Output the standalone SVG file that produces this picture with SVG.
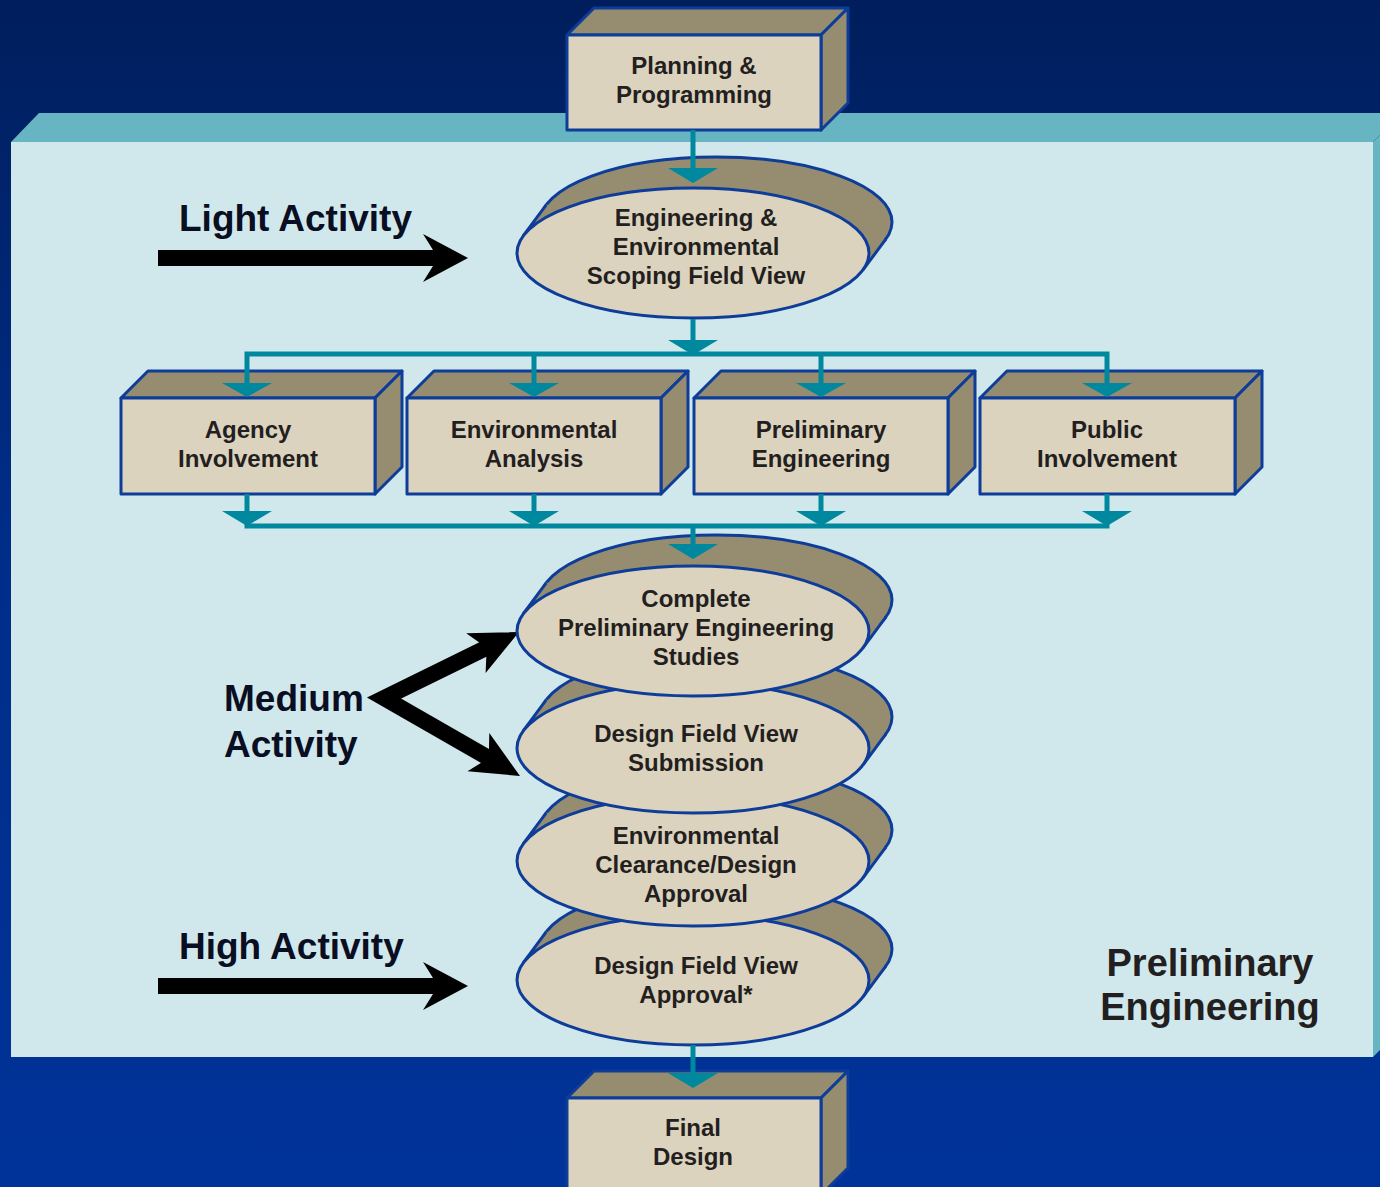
<svg xmlns="http://www.w3.org/2000/svg" width="1380" height="1187" viewBox="0 0 1380 1187">
<defs>
<linearGradient id="bg" x1="0" y1="0" x2="0" y2="1">
<stop offset="0" stop-color="#001e5c"/>
<stop offset="0.45" stop-color="#002d88"/>
<stop offset="1" stop-color="#003399"/>
</linearGradient>
</defs>
<style>
.front{fill:#dcd3be;stroke:#0d3c99;stroke-width:3;stroke-linejoin:round}
.dark{fill:#968d71;stroke:#0d3c99;stroke-width:3;stroke-linejoin:round}
.darkfill{fill:#968d71;stroke:none}
.edge{stroke:#0d3c99;stroke-width:3;fill:none}
.lbl{font-family:"Liberation Sans",Arial,sans-serif;font-weight:bold;font-size:24px;fill:#231f20;text-anchor:middle}
.big{font-family:"Liberation Sans",Arial,sans-serif;font-weight:bold;font-size:38px;fill:#231f20;text-anchor:middle}
.act{font-family:"Liberation Sans",Arial,sans-serif;font-weight:bold;font-size:37px;fill:#0a0e22}
.con{stroke:#00889e;stroke-width:5;fill:none}
.head{fill:#00889e}
.blk{fill:#000}
</style>
<rect x="0" y="0" width="1380" height="1187" fill="url(#bg)"/>
<g id="panel">
<polygon points="11,142 39,113 1380,113 1380,135 1373,142" fill="#67b5c3"/>
<polygon points="1373,142 1380,135 1380,1050 1373,1057" fill="#67b5c3"/>
<rect x="11" y="142" width="1362" height="915" fill="#d0e8ec"/>
<text class="big" x="1210" y="976">Preliminary</text>
<text class="big" x="1210" y="1020">Engineering</text>
</g>
<g id="activity-labels">
<text class="act" x="179" y="231">Light Activity</text>
<text class="act" x="224" y="711">Medium</text>
<text class="act" x="224" y="757">Activity</text>
<text class="act" x="179" y="959">High Activity</text>
<polygon class="blk" points="158,250 433,250 423,234 468,258 423,282 433,266 158,266"/>
<polygon class="blk" points="158,978 433,978 423,962 468,986 423,1010 433,994 158,994"/>
<polyline points="490,646 384,698 492,760" fill="none" stroke="#000" stroke-width="16" stroke-linejoin="miter" stroke-miterlimit="6"/>
<polygon class="blk" points="519,632 485.6,672.9 486.7,647.8 466.2,633.3"/>
<polygon class="blk" points="520,776 467.5,771.2 488.8,758.1 489.3,733"/>
</g>
<g id="planning">
<polygon class="dark" points="567,35 594,8 848,8 821,35"/>
<polygon class="dark" points="821,35 848,8 848,103 821,130"/>
<rect class="front" x="567" y="35" width="254" height="95"/>
<text class="lbl" x="694" y="74">Planning &amp;</text>
<text class="lbl" x="694" y="103">Programming</text>
</g>
<g id="scoping">
<ellipse class="dark" cx="716" cy="222" rx="176" ry="65"/>
<polygon class="darkfill" points="523.2,235.8 546.2,204.8 885.8,239.2 862.8,270.2"/>
<line class="edge" x1="523.2" y1="235.8" x2="546.2" y2="204.8"/>
<line class="edge" x1="862.8" y1="270.2" x2="885.8" y2="239.2"/>
<ellipse class="front" cx="693" cy="253" rx="176" ry="65"/>
<text class="lbl" x="696" y="226">Engineering &amp;</text>
<text class="lbl" x="696" y="255">Environmental</text>
<text class="lbl" x="696" y="284">Scoping Field View</text>
</g>
<g id="agency">
<polygon class="dark" points="121,398 148,371 402,371 375,398"/>
<polygon class="dark" points="375,398 402,371 402,467 375,494"/>
<rect class="front" x="121" y="398" width="254" height="96"/>
<text class="lbl" x="248" y="438">Agency</text>
<text class="lbl" x="248" y="467">Involvement</text>
</g>
<g id="env-analysis">
<polygon class="dark" points="407,398 434,371 688,371 661,398"/>
<polygon class="dark" points="661,398 688,371 688,467 661,494"/>
<rect class="front" x="407" y="398" width="254" height="96"/>
<text class="lbl" x="534" y="438">Environmental</text>
<text class="lbl" x="534" y="467">Analysis</text>
</g>
<g id="prelim-eng">
<polygon class="dark" points="694,398 721,371 975,371 948,398"/>
<polygon class="dark" points="948,398 975,371 975,467 948,494"/>
<rect class="front" x="694" y="398" width="254" height="96"/>
<text class="lbl" x="821" y="438">Preliminary</text>
<text class="lbl" x="821" y="467">Engineering</text>
</g>
<g id="public">
<polygon class="dark" points="980,398 1007,371 1262,371 1235,398"/>
<polygon class="dark" points="1235,398 1262,371 1262,467 1235,494"/>
<rect class="front" x="980" y="398" width="255" height="96"/>
<text class="lbl" x="1107" y="438">Public</text>
<text class="lbl" x="1107" y="467">Involvement</text>
</g>
<g id="dfv-approval">
<ellipse class="dark" cx="716" cy="949" rx="176" ry="65"/>
<polygon class="darkfill" points="523.2,962.8 546.2,931.8 885.8,966.2 862.8,997.2"/>
<line class="edge" x1="523.2" y1="962.8" x2="546.2" y2="931.8"/>
<line class="edge" x1="862.8" y1="997.2" x2="885.8" y2="966.2"/>
<ellipse class="front" cx="693" cy="980" rx="176" ry="65"/>
<text class="lbl" x="696" y="974">Design Field View</text>
<text class="lbl" x="696" y="1003">Approval*</text>
</g>
<g id="env-clearance">
<ellipse class="dark" cx="716" cy="830" rx="176" ry="65"/>
<polygon class="darkfill" points="523.2,843.8 546.2,812.8 885.8,847.2 862.8,878.2"/>
<line class="edge" x1="523.2" y1="843.8" x2="546.2" y2="812.8"/>
<line class="edge" x1="862.8" y1="878.2" x2="885.8" y2="847.2"/>
<ellipse class="front" cx="693" cy="861" rx="176" ry="65"/>
<text class="lbl" x="696" y="844">Environmental</text>
<text class="lbl" x="696" y="873">Clearance/Design</text>
<text class="lbl" x="696" y="902">Approval</text>
</g>
<g id="dfv-submission">
<ellipse class="dark" cx="716" cy="717" rx="176" ry="65"/>
<polygon class="darkfill" points="523.2,730.8 546.2,699.8 885.8,734.2 862.8,765.2"/>
<line class="edge" x1="523.2" y1="730.8" x2="546.2" y2="699.8"/>
<line class="edge" x1="862.8" y1="765.2" x2="885.8" y2="734.2"/>
<ellipse class="front" cx="693" cy="748" rx="176" ry="65"/>
<text class="lbl" x="696" y="742">Design Field View</text>
<text class="lbl" x="696" y="771">Submission</text>
</g>
<g id="complete-pe">
<ellipse class="dark" cx="716" cy="600" rx="176" ry="65"/>
<polygon class="darkfill" points="523.2,613.8 546.2,582.8 885.8,617.2 862.8,648.2"/>
<line class="edge" x1="523.2" y1="613.8" x2="546.2" y2="582.8"/>
<line class="edge" x1="862.8" y1="648.2" x2="885.8" y2="617.2"/>
<ellipse class="front" cx="693" cy="631" rx="176" ry="65"/>
<text class="lbl" x="696" y="607">Complete</text>
<text class="lbl" x="696" y="636">Preliminary Engineering</text>
<text class="lbl" x="696" y="665">Studies</text>
</g>
<g id="final">
<polygon class="dark" points="567,1098 594,1071 848,1071 821,1098"/>
<polygon class="dark" points="821,1098 848,1071 848,1168 821,1195"/>
<rect class="front" x="567" y="1098" width="254" height="100"/>
<text class="lbl" x="693" y="1136">Final</text>
<text class="lbl" x="693" y="1165">Design</text>
</g>
<g id="connectors">
<path class="con" d="M693,130 V170"/>
<polygon class="head" points="668,168 718,168 693,183"/>
<path class="con" d="M693,319 V342"/>
<polygon class="head" points="668,340 718,340 693,355"/>
<path class="con" d="M247,385 V354 H1107 V385 M534,354 V385 M821,354 V385"/>
<polygon class="head" points="222,383 272,383 247,397"/>
<polygon class="head" points="509,383 559,383 534,397"/>
<polygon class="head" points="796,383 846,383 821,397"/>
<polygon class="head" points="1082,383 1132,383 1107,397"/>
<path class="con" d="M247,494 V526 H1107 V494 M534,494 V513 M821,494 V513"/>
<polygon class="head" points="222,511 272,511 247,526"/>
<polygon class="head" points="509,511 559,511 534,526"/>
<polygon class="head" points="796,511 846,511 821,526"/>
<polygon class="head" points="1082,511 1132,511 1107,526"/>
<path class="con" d="M693,526 V546"/>
<polygon class="head" points="668,544 718,544 693,559"/>
<path class="con" d="M693,1045 V1075"/>
<polygon class="head" points="668,1073 718,1073 693,1088"/>
</g>
</svg>
